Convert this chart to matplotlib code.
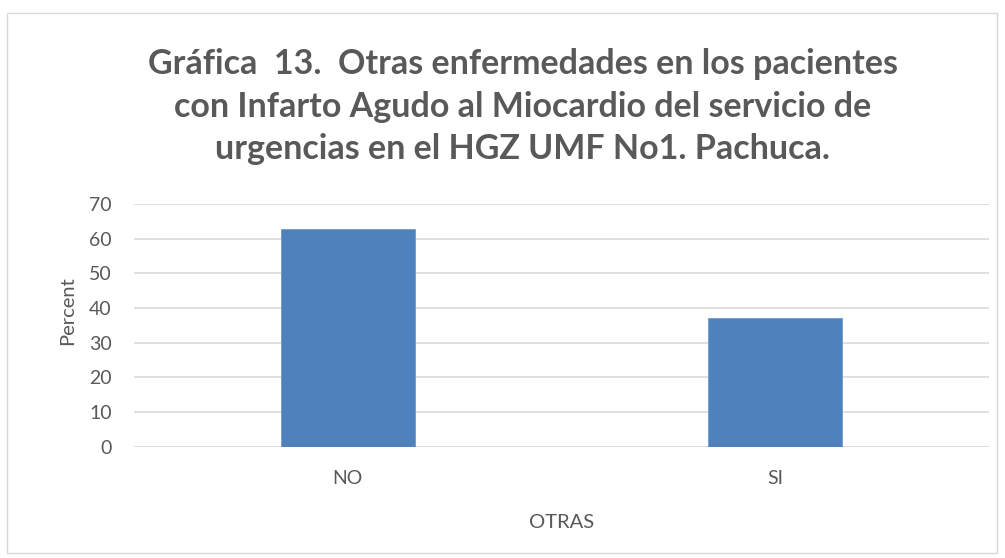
import matplotlib.pyplot as plt
from matplotlib.patches import Rectangle

categories = ["NO", "SI"]
percent = [62.9, 37.1]
yticks = [0, 10, 20, 30, 40, 50, 60, 70]

title = ("Gráfica  13.  Otras enfermedades en los pacientes\n"
         "con Infarto Agudo al Miocardio del servicio de\n"
         "urgencias en el HGZ UMF No1. Pachuca.")

plt.rcParams['font.family'] = ['Lato', 'DejaVu Sans']
text_color = "#595959"

fig = plt.figure(figsize=(10.05, 5.58), dpi=100)
# chart frame
fig.patches.append(Rectangle((7 / 1005, 1 - 553 / 558), 990 / 1005, 540 / 558,
                             transform=fig.transFigure, fill=False,
                             edgecolor="#d9d9d9", linewidth=1))

ax = fig.add_axes([0.1333, 0.1995, 0.8507, 0.4345])
ax.bar(range(len(categories)), percent, width=0.313, color="#4f81bd",
       edgecolor="#6f9bd1", linewidth=0.6, zorder=3)
ax.set_xlim(-0.5, 1.5)
ax.set_ylim(0, 70)
ax.set_yticks(yticks)
ax.set_xticks(range(len(categories)))
ax.set_xticklabels(categories)
ax.yaxis.grid(True, color="#d9d9d9", linewidth=1.2, zorder=0)
for s in ax.spines.values():
    s.set_visible(False)
ax.tick_params(axis="both", length=0, labelsize=14, colors=text_color)
ax.tick_params(axis="x", pad=17)
ax.tick_params(axis="y", pad=16)
ax.set_ylabel("Percent", fontsize=14.5, color=text_color)
ax.yaxis.set_label_coords(-0.068, 0.56)
ax.set_xlabel("OTRAS", fontsize=14.5, color=text_color, labelpad=19)

fig.text(0.52, 0.914, title, ha="center", va="top", fontsize=24.5,
         fontweight="bold", color=text_color, linespacing=1.41)

fig.savefig("out.png", dpi=100)
